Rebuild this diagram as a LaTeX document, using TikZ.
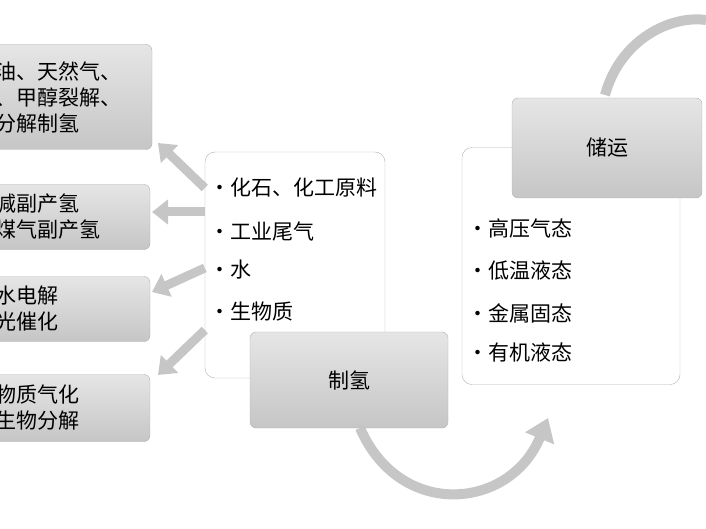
\documentclass[tikz,border=0pt]{standalone}
\usepackage{fontspec}
\newfontfamily\cjk{Noto Sans CJK SC}
\usetikzlibrary{arrows.meta,positioning}
\tikzset{
  graybox/.style={draw=gray!60, rounded corners=6pt, top color=gray!20, bottom color=gray!45, inner sep=0pt},
  whitebox/.style={draw=gray!60, rounded corners=10pt, fill=white, inner sep=0pt},
  fatarrow/.style={draw=gray!60, line width=9pt, -{Triangle[length=16pt,width=24pt]}, color=gray!45},
  bigcurve/.style={line width=10pt, gray!45, -{Triangle[length=22pt,width=30pt]}},
}
\begin{document}
\begin{tikzpicture}[x=1pt, y=-1pt, every node/.style={font=\cjk\fontsize{21}{26}\selectfont}]
  \useasboundingbox (0,0) rectangle (706,529);
  % left result boxes
  \node[graybox, minimum width=170pt, minimum height=105pt] (coal) at (67,97) {};
  \node[anchor=west, align=left] at (-8,97) {油、天然气、\\、甲醇裂解、\\分解制氢};
  \node[graybox, minimum width=170pt, minimum height=65pt] (gas) at (65,217) {};
  \node[anchor=west, align=left] at (-8,217) {减副产氢\\煤气副产氢};
  \node[graybox, minimum width=170pt, minimum height=65pt] (water) at (65,309) {};
  \node[anchor=west, align=left] at (-8,309) {水电解\\光催化};
  \node[graybox, minimum width=170pt, minimum height=67pt] (bio) at (65,408) {};
  \node[anchor=west, align=left] at (-8,408) {物质气化\\生物分解};
  % curved arrows
  \coordinate (c1) at (360,428);
  \coordinate (c2) at (548,418);
  \draw[bigcurve] (c1) .. controls (400,520) and (510,510) .. (c2);
  \coordinate (c3) at (605,95);
  \coordinate (c4) at (706,20);
  \draw[line width=10pt, gray!45] (c3) .. controls (620,40) and (670,15) .. (c4);
  % sources
  \node[whitebox, minimum width=180pt, minimum height=226pt] (src) at (295,265) {};
  \node[anchor=west] at (206,188) {•化石、化工原料};
  \node[anchor=west] at (206,231) {•工业尾气};
  \node[anchor=west] at (206,270) {•水};
  \node[anchor=west] at (206,312) {•生物质};
  \node[graybox, minimum width=198pt, minimum height=96pt] (prod) at (349,380) {制氢};
  % storage
  \node[whitebox, minimum width=218pt, minimum height=237pt] (store) at (571,266) {};
  \node[anchor=west] at (464,228) {•高压气态};
  \node[anchor=west] at (464,271) {•低温液态};
  \node[anchor=west] at (464,313) {•金属固态};
  \node[anchor=west] at (464,352) {•有机液态};
  \node[graybox, minimum width=190pt, minimum height=100pt] (trans) at (607,148) {储运};
  % fat arrows to the left boxes
  \draw[fatarrow] (src.west |- 0,188) -- (158,143);
  \draw[fatarrow] (src.west |- 0,212) -- (152,212);
  \draw[fatarrow] (src.west |- 0,268) -- (152,292);
  \draw[fatarrow] (src.west |- 0,330) -- (158,375);
\end{tikzpicture}
\end{document}
